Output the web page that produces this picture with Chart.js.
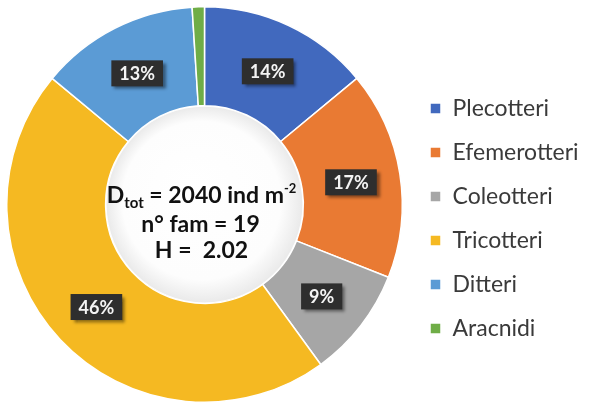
<!DOCTYPE html>
<html>
<head>
<meta charset="utf-8">
<script src="https://cdn.jsdelivr.net/npm/chart.js@4.4.1/dist/chart.umd.min.js"></script>
<style>
  html, body { margin: 0; padding: 0; background: #fff; }
  #wrap { width: 590px; height: 405px; position: relative; }
</style>
</head>
<body>
<div id="wrap"><canvas id="famiglie-chart"></canvas></div>
<script>
const labels = ['Plecotteri', 'Efemerotteri', 'Coleotteri', 'Tricotteri', 'Ditteri', 'Aracnidi'];
const percent = [14, 17, 9, 46, 13, 1];
const colors = ['#4169BE', '#E97A33', '#A6A6A6', '#F5B922', '#5B9BD5', '#6FAD47'];

// testo al centro
const densita = '2040';
const nFamiglie = '19';
const shannon = '2.02';

const FONT = 'Lato, "Noto Sans", sans-serif';

// allarga la legenda a destra (trucco del fit)
const legendWidth = {
    id: 'legendWidth',
    beforeInit(chart) {
        const fit = chart.legend.fit;
        chart.legend.fit = function () {
            fit.call(this);
            this.width = 181;
        };
    },
    afterLayout(chart) {
        chart.legend.top += 14;
        chart.legend.bottom += 14;
    }
};

// etichette percentuali + buco centrale
const donutExtras = {
    id: 'donutExtras',
    afterDatasetsDraw(chart) {
        const ctx = chart.ctx;
        const meta = chart.getDatasetMeta(0);
        const arc0 = meta.data[0];
        const cx = arc0.x, cy = arc0.y, r = arc0.innerRadius;

        // ombra leggera nel buco
        ctx.save();
        const g = ctx.createRadialGradient(cx - 15, cy - 20, 0, cx, cy, r);
        g.addColorStop(0, '#ffffff');
        g.addColorStop(0.8, '#fdfdfd');
        g.addColorStop(1, '#e9e9e9');
        ctx.fillStyle = g;
        ctx.beginPath();
        ctx.arc(cx, cy, r - 1, 0, Math.PI * 2);
        ctx.fill();
        ctx.restore();

        // testo centrale
        ctx.save();
        ctx.fillStyle = '#111';
        ctx.textBaseline = 'alphabetic';
        const big = 'bold 23px ' + FONT;
        const sub = 'bold 15px ' + FONT;
        const sup = 'bold 13px ' + FONT;
        const parts = [
            { t: 'D', f: big, dy: 0 },
            { t: 'tot', f: sub, dy: 5 },
            { t: ' = ' + densita + ' ind m', f: big, dy: 0 },
            { t: '-2', f: sup, dy: -10 }
        ];
        let w = 0;
        parts.forEach(p => { ctx.font = p.f; p.w = ctx.measureText(p.t).width; w += p.w; });
        let x = cx - 3 - w / 2;
        ctx.textAlign = 'left';
        parts.forEach(p => { ctx.font = p.f; ctx.fillText(p.t, x, cy - 2 + p.dy); x += p.w; });
        ctx.font = big;
        ctx.textAlign = 'center';
        ctx.fillText('n\u00B0 fam = ' + nFamiglie, cx - 4, cy + 27);
        ctx.fillText('H =  ' + shannon, cx - 3, cy + 53);
        ctx.restore();

        // box scuri con le percentuali
        meta.data.forEach((arc, i) => {
            if (percent[i] < 5) return;
            const p = arc.tooltipPosition();
            const txt = percent[i] + '%';
            ctx.save();
            ctx.font = 'bold 18px ' + FONT;
            const tw = ctx.measureText(txt).width;
            const bw = tw + 16, bh = 26;
            const bx = p.x - bw / 2, by = p.y + 1 - bh / 2;
            ctx.shadowColor = 'rgba(0,0,0,0.45)';
            ctx.shadowOffsetX = 3;
            ctx.shadowOffsetY = 3;
            ctx.shadowBlur = 3;
            ctx.fillStyle = '#2e2e2e';
            ctx.fillRect(bx, by, bw, bh);
            ctx.shadowColor = 'transparent';
            ctx.fillStyle = '#f4f4f4';
            ctx.textAlign = 'center';
            ctx.textBaseline = 'middle';
            ctx.fillText(txt, p.x, p.y + 2);
            ctx.restore();
        });
    }
};

const ctx = document.getElementById('famiglie-chart');

new Chart(ctx, {
    type: 'doughnut',
    data: {
        labels: labels,
        datasets: [{
            data: percent,
            backgroundColor: colors,
            borderColor: '#ffffff',
            borderWidth: 1.5
        }]
    },
    options: {
        responsive: true,
        maintainAspectRatio: false,
        animation: false,
        cutout: '50%',
        layout: {
            padding: { top: 6, bottom: 2, left: 0, right: 0 }
        },
        plugins: {
            tooltip: { enabled: false },
            legend: {
                position: 'right',
                labels: {
                    boxWidth: 11,
                    boxHeight: 11,
                    padding: 21,
                    color: '#3a3a3a',
                    font: { family: FONT, size: 23 }
                }
            }
        }
    },
    plugins: [legendWidth, donutExtras]
});
</script>
</body>
</html>
